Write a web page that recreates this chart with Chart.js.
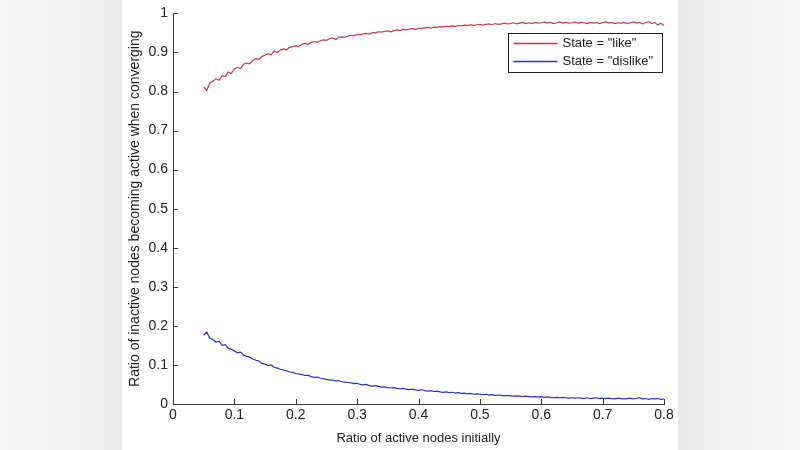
<!DOCTYPE html>
<html>
<head>
<meta charset="utf-8">
<script src="https://cdn.jsdelivr.net/npm/chart.js@4/dist/chart.umd.min.js"></script>
<style>
    html, body { margin: 0; padding: 0; background: #fff; }
    #plot { display: block; }
</style>
</head>
<body>
<canvas id="plot" width="800" height="450"></canvas>
<script>
    'use strict';

    // initial ratio of active nodes (x), sampled every 0.005
    var ratioActive = [
        0.050, 0.055, 0.060, 0.065, 0.070, 0.075, 0.080, 0.085, 0.090, 0.095,
        0.100, 0.105, 0.110, 0.115, 0.120, 0.125, 0.130, 0.135, 0.140, 0.145,
        0.150, 0.155, 0.160, 0.165, 0.170, 0.175, 0.180, 0.185, 0.190, 0.195,
        0.200, 0.205, 0.210, 0.215, 0.220, 0.225, 0.230, 0.235, 0.240, 0.245,
        0.250, 0.255, 0.260, 0.265, 0.270, 0.275, 0.280, 0.285, 0.290, 0.295,
        0.300, 0.305, 0.310, 0.315, 0.320, 0.325, 0.330, 0.335, 0.340, 0.345,
        0.350, 0.355, 0.360, 0.365, 0.370, 0.375, 0.380, 0.385, 0.390, 0.395,
        0.400, 0.405, 0.410, 0.415, 0.420, 0.425, 0.430, 0.435, 0.440, 0.445,
        0.450, 0.455, 0.460, 0.465, 0.470, 0.475, 0.480, 0.485, 0.490, 0.495,
        0.500, 0.505, 0.510, 0.515, 0.520, 0.525, 0.530, 0.535, 0.540, 0.545,
        0.550, 0.555, 0.560, 0.565, 0.570, 0.575, 0.580, 0.585, 0.590, 0.595,
        0.600, 0.605, 0.610, 0.615, 0.620, 0.625, 0.630, 0.635, 0.640, 0.645,
        0.650, 0.655, 0.660, 0.665, 0.670, 0.675, 0.680, 0.685, 0.690, 0.695,
        0.700, 0.705, 0.710, 0.715, 0.720, 0.725, 0.730, 0.735, 0.740, 0.745,
        0.750, 0.755, 0.760, 0.765, 0.770, 0.775, 0.780, 0.785, 0.790, 0.795,
        0.800
    ];

    // State = "like"
    var likeRatio = [
        0.812, 0.803, 0.822, 0.826, 0.833, 0.829, 0.840, 0.838, 0.850, 0.846,
        0.858, 0.862, 0.859, 0.870, 0.873, 0.871, 0.880, 0.884, 0.882, 0.890,
        0.893, 0.897, 0.894, 0.904, 0.900, 0.906, 0.909, 0.907, 0.913, 0.915,
        0.917, 0.915, 0.921, 0.923, 0.921, 0.926, 0.928, 0.926, 0.930, 0.932,
        0.931, 0.935, 0.937, 0.933, 0.939, 0.940, 0.939, 0.942, 0.944, 0.943,
        0.946, 0.945, 0.948, 0.949, 0.947, 0.951, 0.950, 0.953, 0.952, 0.954,
        0.955, 0.953, 0.956, 0.958, 0.956, 0.959, 0.958, 0.960, 0.961, 0.959,
        0.962, 0.961, 0.963, 0.964, 0.962, 0.965, 0.964, 0.966, 0.965, 0.967,
        0.966, 0.968, 0.967, 0.969, 0.968, 0.970, 0.969, 0.971, 0.969, 0.971,
        0.972, 0.970, 0.972, 0.973, 0.971, 0.974, 0.972, 0.973, 0.975, 0.973,
        0.974, 0.976, 0.973, 0.975, 0.977, 0.974, 0.976, 0.974, 0.977, 0.975,
        0.976, 0.978, 0.975, 0.977, 0.974, 0.976, 0.978, 0.975, 0.977, 0.975,
        0.976, 0.978, 0.975, 0.977, 0.976, 0.974, 0.977, 0.975, 0.977, 0.974,
        0.976, 0.978, 0.975, 0.977, 0.974, 0.976, 0.975, 0.977, 0.974, 0.976,
        0.978, 0.975, 0.977, 0.973, 0.976, 0.979, 0.974, 0.977, 0.970, 0.975,
        0.969
    ];

    // State = "dislike"
    var dislikeRatio = [
        0.176, 0.184, 0.168, 0.165, 0.158, 0.161, 0.150, 0.152, 0.143, 0.140,
        0.136, 0.131, 0.133, 0.125, 0.122, 0.120, 0.115, 0.112, 0.110, 0.104,
        0.102, 0.098, 0.100, 0.094, 0.092, 0.089, 0.087, 0.085, 0.082, 0.081,
        0.078, 0.077, 0.075, 0.073, 0.074, 0.070, 0.068, 0.069, 0.066, 0.065,
        0.063, 0.062, 0.061, 0.059, 0.060, 0.057, 0.056, 0.055, 0.054, 0.052,
        0.053, 0.050, 0.049, 0.050, 0.047, 0.046, 0.047, 0.045, 0.043, 0.044,
        0.042, 0.041, 0.042, 0.040, 0.039, 0.040, 0.038, 0.037, 0.038, 0.036,
        0.035, 0.037, 0.034, 0.033, 0.034, 0.032, 0.033, 0.031, 0.030, 0.031,
        0.029, 0.030, 0.028, 0.029, 0.027, 0.028, 0.026, 0.027, 0.025, 0.026,
        0.025, 0.024, 0.025, 0.023, 0.024, 0.022, 0.023, 0.022, 0.021, 0.022,
        0.021, 0.020, 0.021, 0.020, 0.019, 0.020, 0.019, 0.018, 0.019, 0.018,
        0.019, 0.017, 0.018, 0.017, 0.016, 0.017, 0.016, 0.017, 0.016, 0.015,
        0.016, 0.015, 0.016, 0.015, 0.014, 0.016, 0.014, 0.015, 0.016, 0.014,
        0.015, 0.014, 0.015, 0.014, 0.013, 0.015, 0.014, 0.013, 0.014, 0.015,
        0.013, 0.014, 0.016, 0.013, 0.014, 0.012, 0.014, 0.013, 0.014, 0.012,
        0.013
    ];

    var seriesLabels = ['State = "like"', 'State = "dislike"'];
    var xTickValues = [0, 0.1, 0.2, 0.3, 0.4, 0.5, 0.6, 0.7, 0.8];
    var yTickValues = [0, 0.1, 0.2, 0.3, 0.4, 0.5, 0.6, 0.7, 0.8, 0.9, 1];

    var FONT = 'Liberation Sans, Arial, sans-serif';
    var AXIS_COLOR = '#3a3a3a';
    var LIKE_COLOR = '#c03a48';
    var DISLIKE_COLOR = '#3034b8';

    function toPoints(values) {
        return values.map(function (v, i) {
            return {x: ratioActive[i], y: v};
        });
    }

    function tickText(v) {
        return (v === 0 || v === 1) ? String(v) : v.toFixed(1);
    }

    // gray photo margins around the white figure
    var backdrop = {
        id: 'backdrop',
        beforeDraw: function (ch) {
            var c = ch.ctx, g;
            c.save();
            g = c.createLinearGradient(0, 0, 122, 0);
            g.addColorStop(0, '#f7f7f7');
            g.addColorStop(1, '#ebebeb');
            c.fillStyle = g;
            c.fillRect(0, 0, 122, ch.height);
            g = c.createLinearGradient(678, 0, 800, 0);
            g.addColorStop(0, '#eaeaea');
            g.addColorStop(1, '#f8f8f8');
            c.fillStyle = g;
            c.fillRect(678, 0, 122, ch.height);
            c.fillStyle = '#ffffff';
            c.fillRect(122, 0, 556, ch.height);
            c.restore();
        }
    };

    // matlab style inward ticks + boxed legend
    var matlabBits = {
        id: 'matlabBits',
        afterDatasetsDraw: function (ch) {
            var c = ch.ctx,
                xs = ch.scales.x,
                ys = ch.scales.y,
                area = ch.chartArea;

            c.save();
            c.strokeStyle = AXIS_COLOR;
            c.lineWidth = 1;
            c.beginPath();
            xTickValues.forEach(function (v) {
                var px = Math.round(xs.getPixelForValue(v)) + 0.5;
                c.moveTo(px, area.bottom);
                c.lineTo(px, area.bottom - 5);
            });
            yTickValues.forEach(function (v) {
                var py = Math.round(ys.getPixelForValue(v)) + 0.5;
                c.moveTo(area.left, py);
                c.lineTo(area.left + 5, py);
            });
            c.stroke();

            // legend box
            var bx = 508.5, by = 33.5, bw = 154, bh = 39;
            c.fillStyle = '#ffffff';
            c.fillRect(bx, by, bw, bh);
            c.strokeStyle = '#222';
            c.strokeRect(bx, by, bw, bh);
            c.font = '13px ' + FONT;
            c.textBaseline = 'middle';
            c.textAlign = 'left';
            ch.data.datasets.forEach(function (ds, i) {
                var ly = by + 10 + i * 18;
                c.strokeStyle = ds.borderColor;
                c.lineWidth = 1.5;
                c.beginPath();
                c.moveTo(bx + 5, ly);
                c.lineTo(bx + 49, ly);
                c.stroke();
                c.fillStyle = '#222';
                c.fillText(ds.label, bx + 54, ly);
            });
            c.restore();
        }
    };

    new Chart(document.getElementById('plot'), {
        type: 'line',
        data: {
            datasets: [{
                label: seriesLabels[0],
                data: toPoints(likeRatio),
                borderColor: LIKE_COLOR,
                borderWidth: 1.2,
                pointRadius: 0,
                tension: 0,
                fill: false
            }, {
                label: seriesLabels[1],
                data: toPoints(dislikeRatio),
                borderColor: DISLIKE_COLOR,
                borderWidth: 1.2,
                pointRadius: 0,
                tension: 0,
                fill: false
            }]
        },
        options: {
            responsive: false,
            animation: false,
            layout: {
                padding: {left: 120, right: 136, top: 12, bottom: 4}
            },
            plugins: {
                legend: {display: false},
                tooltip: {enabled: false}
            },
            scales: {
                x: {
                    type: 'linear',
                    min: 0,
                    max: 0.8,
                    afterBuildTicks: function (axis) {
                        axis.ticks = xTickValues.map(function (v) { return {value: v}; });
                    },
                    afterFit: function (axis) {
                        axis.height = 42;
                    },
                    grid: {display: true, drawOnChartArea: false, drawTicks: false},
                    border: {color: AXIS_COLOR, width: 1},
                    ticks: {
                        font: {family: FONT, size: 14},
                        color: '#222',
                        padding: 3,
                        maxRotation: 0,
                        callback: function (v) { return tickText(v); }
                    },
                    title: {
                        display: true,
                        text: 'Ratio of active nodes initially',
                        font: {family: FONT, size: 13},
                        color: '#222',
                        padding: {top: 0, bottom: 0}
                    }
                },
                y: {
                    min: 0,
                    max: 1,
                    afterBuildTicks: function (axis) {
                        axis.ticks = yTickValues.map(function (v) { return {value: v}; });
                    },
                    afterFit: function (axis) {
                        axis.width = 53;
                    },
                    grid: {display: true, drawOnChartArea: false, drawTicks: false},
                    border: {color: AXIS_COLOR, width: 1},
                    ticks: {
                        font: {family: FONT, size: 14},
                        color: '#222',
                        padding: 5,
                        callback: function (v) { return tickText(v); }
                    },
                    title: {
                        display: true,
                        text: 'Ratio of inactive nodes becoming active when converging',
                        font: {family: FONT, size: 14},
                        color: '#222',
                        padding: {top: 7, bottom: 0}
                    }
                }
            }
        },
        plugins: [backdrop, matlabBits]
    });
</script>
</body>
</html>
